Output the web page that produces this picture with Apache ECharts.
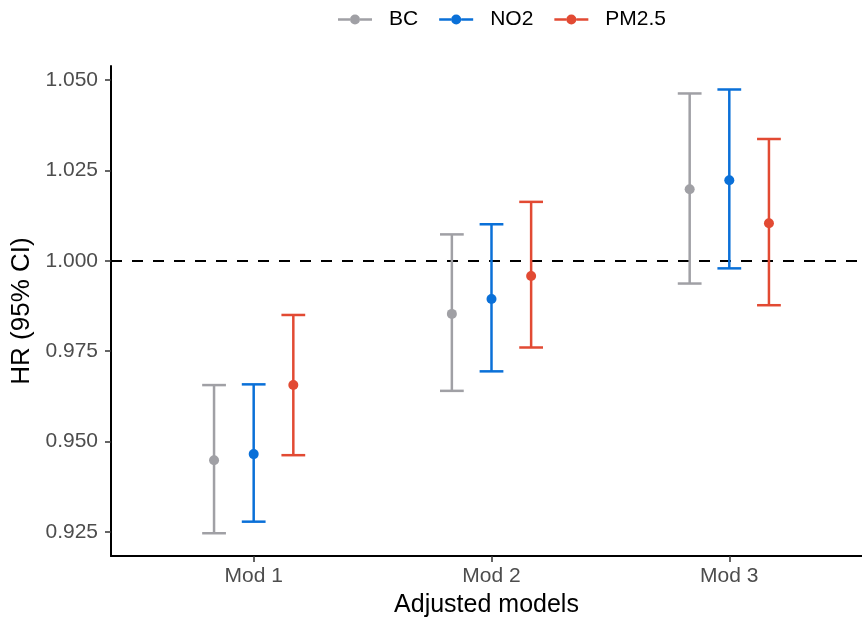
<!DOCTYPE html>
<html>
<head>
<meta charset="utf-8">
<script src="https://cdn.jsdelivr.net/npm/echarts@6/dist/echarts.min.js"></script>
<style>
  html, body { margin: 0; padding: 0; background: #fff; }
  #main { width: 862px; height: 619px; }
</style>
</head>
<body>
<div id="main"></div>
<script>
// models on x, HR with 95% CI per pollutant
var models = ['Mod 1', 'Mod 2', 'Mod 3'];
var yTicks = [0.925, 0.950, 0.975, 1.000, 1.025, 1.050];

var bcEst  = [0.9448, 0.9853, 1.0198];
var bcLow  = [0.9246, 0.9640, 0.9937];
var bcHigh = [0.9656, 1.0073, 1.0463];

var no2Est  = [0.9465, 0.9894, 1.0223];
var no2Low  = [0.9278, 0.9694, 0.9979];
var no2High = [0.9658, 1.0101, 1.0474];

var pmEst  = [0.9656, 0.9958, 1.0104];
var pmLow  = [0.9462, 0.9760, 0.9877];
var pmHigh = [0.9850, 1.0163, 1.0337];

var pollutants = ['BC', 'NO2', 'PM2.5'];
var colors = ['#A0A0A5', '#0A70D8', '#E24A33'];
var dodge = [-1 / 6, 0, 1 / 6];   // position_dodge(0.5)
var capHalf = 0.05;

var fontFam = '"Liberation Sans", Arial, sans-serif';
// line with a dot, no overlap so the fill stays solid
var legendIcon = 'path://M0,3.8 L12,3.8 L12,6.2 L0,6.2 Z M22,3.8 L34,3.8 L34,6.2 L22,6.2 Z ' +
  'M12,5 A5,5 0 1,1 22,5 A5,5 0 1,1 12,5 Z';

function buildData(est, low, high) {
  var out = [];
  for (var i = 0; i < est.length; i++) {
    out.push([i + 1, low[i], est[i], high[i]]);
  }
  return out;
}

function makeRender(k) {
  return function (params, api) {
    var x = api.value(0) + dodge[k];
    var lo = api.coord([x, api.value(1)]);
    var mid = api.coord([x, api.value(2)]);
    var hi = api.coord([x, api.value(3)]);
    var l = api.coord([x - capHalf, api.value(1)])[0];
    var r = api.coord([x + capHalf, api.value(1)])[0];
    var st = { stroke: colors[k], lineWidth: 2.5, fill: null };
    return {
      type: 'group',
      children: [
        { type: 'line', shape: { x1: lo[0], y1: lo[1], x2: hi[0], y2: hi[1] }, style: st },
        { type: 'line', shape: { x1: l, y1: lo[1], x2: r, y2: lo[1] }, style: st },
        { type: 'line', shape: { x1: l, y1: hi[1], x2: r, y2: hi[1] }, style: st },
        { type: 'circle', shape: { cx: mid[0], cy: mid[1], r: 5 }, style: { fill: colors[k] } }
      ]
    };
  };
}

var allData = [
  buildData(bcEst, bcLow, bcHigh),
  buildData(no2Est, no2Low, no2High),
  buildData(pmEst, pmLow, pmHigh)
];

var series = [];
for (var k = 0; k < pollutants.length; k++) {
  series.push({
    name: pollutants[k],
    type: 'custom',
    renderItem: makeRender(k),
    itemStyle: { color: colors[k] },
    encode: { x: 0, y: [1, 2, 3] },
    data: allData[k],
    z: 3
  });
}
// reference line at HR = 1
series[0].markLine = {
  silent: true,
  symbol: 'none',
  label: { show: false },
  lineStyle: { color: '#000', type: [11, 10], width: 2.2 },
  data: [{ yAxis: 1 }],
  z: 2
};

var chart = echarts.init(document.getElementById('main'), null, { renderer: 'canvas' });

chart.setOption({
  animation: false,
  backgroundColor: '#fff',
  textStyle: { fontFamily: fontFam },
  legend: {
    left: 333,
    top: 4,
    itemWidth: 34,
    itemHeight: 10,
    itemGap: 21,
    data: pollutants.map(function (p, i) {
      return { name: p, icon: legendIcon, itemStyle: { color: colors[i], borderWidth: 0 } };
    }),
    textStyle: { fontSize: 21, color: '#000', fontFamily: fontFam, padding: [0, 0, 0, 12] }
  },
  grid: { left: 111, right: 0, top: 66, bottom: 63, containLabel: false, outerBoundsMode: 'none' },
  xAxis: {
    type: 'value',
    min: 0.4,
    max: 3.558,
    name: 'Adjusted models',
    nameLocation: 'middle',
    nameGap: 37,
    nameTextStyle: { fontSize: 25, color: '#000', fontFamily: fontFam },
    splitLine: { show: false },
    axisLine: { show: true, lineStyle: { color: '#000', width: 2 } },
    axisTick: { show: true, customValues: [1, 2, 3], length: 6, lineStyle: { color: '#333', width: 1.5 } },
    axisLabel: {
      customValues: [1, 2, 3],
      formatter: function (v) { return models[Math.round(v) - 1]; },
      fontSize: 21, color: '#4D4D4D', margin: 10, fontFamily: fontFam
    }
  },
  yAxis: {
    type: 'value',
    min: 0.9183,
    max: 1.0539,
    name: 'HR (95% CI)',
    nameLocation: 'middle',
    nameGap: 75,
    nameTextStyle: { fontSize: 26, color: '#000', fontFamily: fontFam },
    splitLine: { show: false },
    axisLine: { show: true, lineStyle: { color: '#000', width: 2 } },
    axisTick: { show: true, customValues: yTicks, length: 6, lineStyle: { color: '#333', width: 1.5 } },
    axisLabel: {
      customValues: yTicks,
      formatter: function (v) { return v.toFixed(3); },
      fontSize: 21, color: '#4D4D4D', margin: 13, fontFamily: fontFam
    }
  },
  series: series
});
</script>
</body>
</html>
